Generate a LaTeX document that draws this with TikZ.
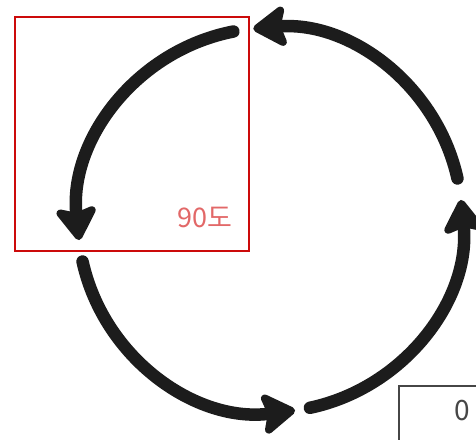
\documentclass[tikz,border=0pt]{standalone}
\usepackage{fontspec}
\usepackage{xcolor}
\newfontfamily\krfont{Noto Sans CJK KR}
\usetikzlibrary{arrows.meta}
\definecolor{frameRed}{RGB}{204,10,10}
\definecolor{labelRed}{RGB}{226,104,104}
\definecolor{frameGray}{RGB}{70,70,70}
\definecolor{inkBlack}{RGB}{28,28,28}

\begin{document}
\begin{tikzpicture}[x=1pt,y=1pt,
    turn/.style={draw=inkBlack, line width=12.5pt, line cap=round,
      -{Stealth[length=38pt,width=48pt,inset=7pt,round]}}]
    \useasboundingbox (0,0) rectangle (476,439);
    \clip (0,0) rectangle (476,439);
    \coordinate (C) at (270,219);
    \path (C) ++(101:192) coordinate (A1);
    \path (C) ++(192.5:192) coordinate (A2);
    \path (C) ++(282:192) coordinate (A3);
    \path (C) ++(12.5:192) coordinate (A4);
    \draw [turn] (A1) arc [start angle=101, end angle=186, radius=192];
    \draw [turn] (A2) arc [start angle=192.5, end angle=277.5, radius=192];
    \draw [turn] (A3) arc [start angle=282, end angle=366, radius=192];
    \draw [turn] (A4) arc [start angle=12.5, end angle=95, radius=192];
    % marked quarter
    \draw [frameRed, line width=1.5pt] (15,422) rectangle (249,188);
    \node (L1) [anchor=east, text=labelRed, font=\krfont\fontsize{27}{32}\selectfont] at (236,222) {90도};
    % box at the corner
    \draw [frameGray, line width=1.5pt] (399,53) rectangle (500,-20);
    \node (L2) [anchor=east, text=frameGray, font=\krfont\fontsize{28}{32}\selectfont] at (474,28) {0};
\end{tikzpicture}
\end{document}
